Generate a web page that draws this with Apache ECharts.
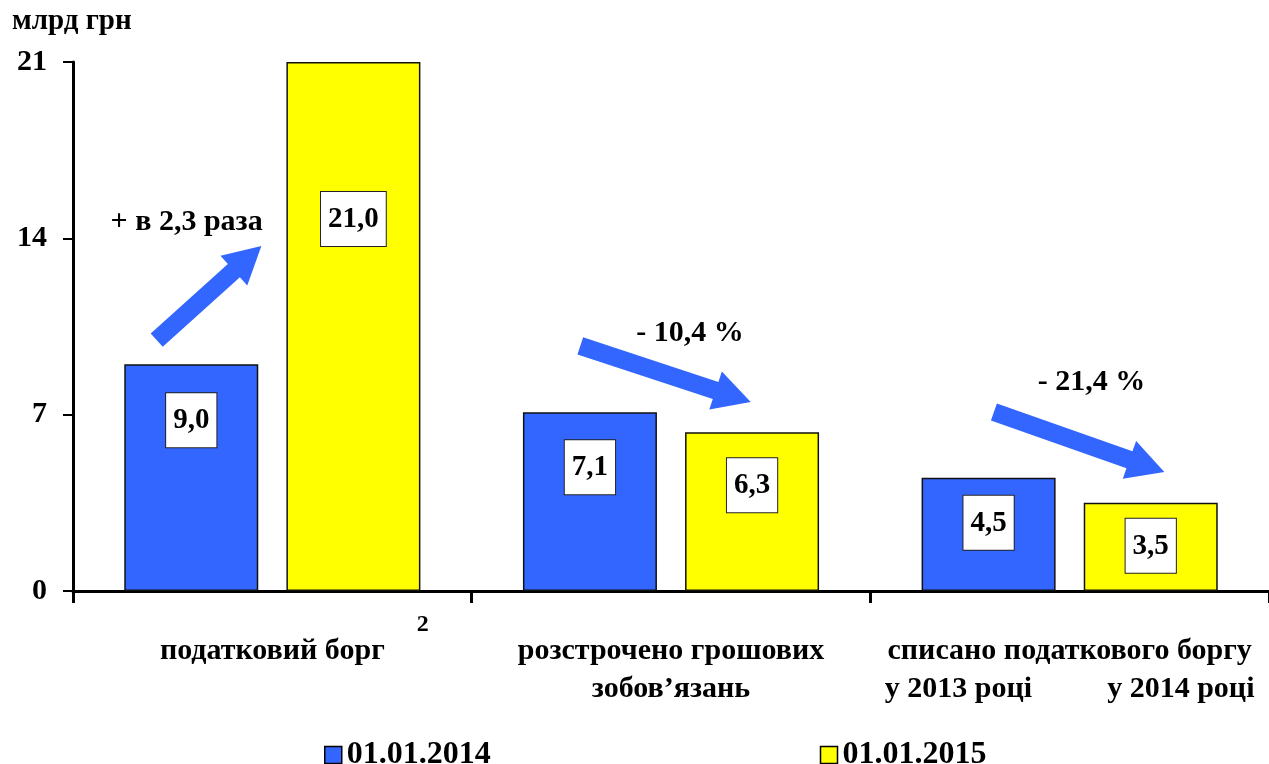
<!DOCTYPE html>
<html>
<head>
<meta charset="utf-8">
<script src="https://cdn.jsdelivr.net/npm/echarts@6/dist/echarts.min.js"></script>
<style>
html,body{margin:0;padding:0;background:#fff;}
#chart{width:1269px;height:764px;}
</style>
</head>
<body>
<div id="chart"></div>
<script>
// ---- data ----
var categories = [
  'податковий борг',
  'розстрочено грошових\nзобов\u2019язань',
  'списано податкового боргу\nу 2013 році          у 2014 році'
];
var series2014 = [9.0, 7.1, 4.5];
var series2015 = [21.0, 6.3, 3.5];
var seriesNames = ['01.01.2014', '01.01.2015'];
var yTicks = [0, 7, 14, 21];
var unitTitle = 'млрд грн';
var footnoteMark = '2';
var changeTexts = ['+ в 2,3 раза', '- 10,4 %', '- 21,4 %'];

// annotation anchors: [category index, fraction of band from centre, value]
var arrowTails = [[0, -0.29, 9.96], [1, -0.2275, 9.73], [2, -0.19, 7.11]];
var arrowTips  = [[0, -0.0275, 13.70], [1, 0.20, 7.50], [2, 0.2375, 4.72]];
var changeAnchors = [[0, -0.215, 14.65], [1, 0.0475, 10.24], [2, 0.055, 8.30]];

var FONT = '"Liberation Serif","Times New Roman",serif';
var BLUE = '#3366FF', YELLOW = '#FFFF00';

function labelCfg(dist){
  return {
    show: true, position: 'insideTop', distance: dist,
    formatter: function(p){ return p.value.toFixed(1).replace('.', ','); },
    fontFamily: FONT, fontWeight: 'bold', fontSize: 29, color: '#000',
    backgroundColor: '#fff', borderColor: '#222', borderWidth: 1,
    padding: [12, 7, 11, 7], lineHeight: 31
  };
}
var dist2014 = [29, 28, 18];
var dist2015 = [130, 26, 16];

var chart = echarts.init(document.getElementById('chart'), null, {renderer: 'canvas'});
var option = {
  animation: false,
  backgroundColor: '#fff',
  grid: {left: 73, top: 62, width: 1206, height: 529, containLabel: false},
  legend: {
    left: 319, top: 734, itemWidth: 17, itemHeight: 17, itemGap: 329,
    icon: 'rect',
    textStyle: {fontFamily: FONT, fontWeight: 'bold', fontSize: 32, color: '#000', padding: [2,0,0,0]},
    data: seriesNames.map(function(n, i){ return {name: n, itemStyle: {color: i ? YELLOW : BLUE, borderColor: '#000', borderWidth: 1.5}}; })
  },
  xAxis: {
    type: 'category', data: categories,
    axisLine: {lineStyle: {color: '#000', width: 3}},
    axisTick: {show: true, length: 12, lineStyle: {color: '#000', width: 3}},
    axisLabel: {interval: 0, margin: 41, fontFamily: FONT, fontWeight: 'bold', fontSize: 30, color: '#000', lineHeight: 38}
  },
  yAxis: {
    type: 'value', min: 0, max: 21, interval: 7,
    name: unitTitle, nameLocation: 'end', nameGap: 0,
    nameTextStyle: {fontFamily: FONT, fontWeight: 'bold', fontSize: 29, color: '#000', align: 'left', padding: [0,0,26,-61]},
    axisLine: {show: true, lineStyle: {color: '#000', width: 3}},
    axisTick: {show: true, length: 10, lineStyle: {color: '#000', width: 2}},
    splitLine: {show: false},
    axisLabel: {margin: 26, fontFamily: FONT, fontWeight: 'bold', fontSize: 30, color: '#000',
      formatter: function(v){ return yTicks.indexOf(v) >= 0 ? String(v) : ''; }}
  },
  series: [
    {
      name: seriesNames[0], type: 'bar', barWidth: 134, barGap: '21%',
      itemStyle: {color: BLUE, borderColor: '#111', borderWidth: 1.5},
      data: series2014.map(function(v, i){ return {value: v, label: labelCfg(dist2014[i])}; })
    },
    {
      name: seriesNames[1], type: 'bar', barWidth: 134,
      itemStyle: {color: YELLOW, borderColor: '#111', borderWidth: 1.5},
      data: series2015.map(function(v, i){ return {value: v, label: labelCfg(dist2015[i])}; })
    }
  ]
};
chart.setOption(option);

function anchorPx(a){
  var c = chart.convertToPixel({xAxisIndex: 0}, categories[a[0]]);
  var c1 = chart.convertToPixel({xAxisIndex: 0}, categories[1]);
  var c0 = chart.convertToPixel({xAxisIndex: 0}, categories[0]);
  var band = c1 - c0;
  var y = chart.convertToPixel({yAxisIndex: 0}, a[2]);
  return [c + a[1] * band, y];
}
function arrowPoly(t, h, sw, hw, hl){
  var dx = h[0] - t[0], dy = h[1] - t[1];
  var L = Math.sqrt(dx*dx + dy*dy); var ux = dx/L, uy = dy/L; var nx = -uy, ny = ux;
  var bx = h[0] - ux*hl, by = h[1] - uy*hl;
  return [
    [t[0] + nx*sw, t[1] + ny*sw], [bx + nx*sw, by + ny*sw], [bx + nx*hw, by + ny*hw],
    [h[0], h[1]],
    [bx - nx*hw, by - ny*hw], [bx - nx*sw, by - ny*sw], [t[0] - nx*sw, t[1] - ny*sw]
  ];
}
var graphics = [];
for (var i = 0; i < arrowTails.length; i++){
  var t = anchorPx(arrowTails[i]), h = anchorPx(arrowTips[i]);
  graphics.push({type: 'polygon', shape: {points: arrowPoly(t, h, 9, 20, 37)}, style: {fill: BLUE}, z: 10});
  var p = anchorPx(changeAnchors[i]);
  graphics.push({type: 'text', x: p[0], y: p[1], style: {text: changeTexts[i], fontFamily: FONT, fontWeight: 'bold', fontSize: 30, fill: '#000', align: 'center', verticalAlign: 'middle'}, z: 10});
}
var fp = anchorPx([0, 0.3775, -1.35]);
graphics.push({type: 'text', x: fp[0], y: fp[1], style: {text: footnoteMark, fontFamily: FONT, fontWeight: 'bold', fontSize: 24, fill: '#000', align: 'center', verticalAlign: 'middle'}, z: 10});
chart.setOption({graphic: graphics});
</script>
</body>
</html>
